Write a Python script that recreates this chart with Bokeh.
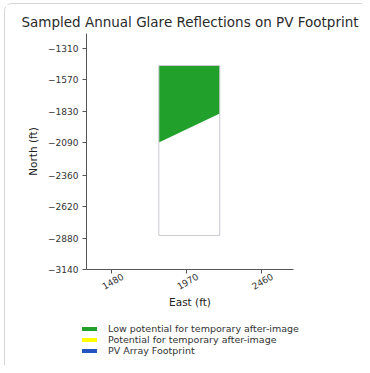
import math
from bokeh.plotting import figure
from bokeh.layouts import column, row
from bokeh.models import Range1d, FixedTicker, Legend, LegendItem, LinearAxis
from bokeh.embed import file_html
from bokeh.resources import INLINE

# ---- data ----
x_ticks = [1480, 1970, 2460]
y_ticks = [-1310, -1570, -1830, -2090, -2360, -2620, -2880, -3140]

footprint_x = [1787, 2186, 2186, 1787]
footprint_y = [-1451, -1451, -2858, -2858]

low_glare_x = [1787, 2186, 2186, 1787]
low_glare_y = [-1451, -1451, -1848, -2088]

legend_labels = ["Low potential for temporary after-image",
                 "Potential for temporary after-image",
                 "PV Array Footprint"]
legend_colors = ["#22a02c", "#ffff00", "#2453c2"]

FONT = "DejaVu Sans"
LABEL_SHIFT = 70  # horizontal nudge so rotated tick labels centre on their ticks

p = figure(output_backend="svg", toolbar_location=None,
           x_range=Range1d(1313, 2669), y_range=Range1d(-3140, -1186),
           frame_width=207, frame_height=236,
           min_border_left=81, min_border_right=69, min_border_top=29,
           min_border_bottom=4,
           title="Sampled Annual Glare Reflections on PV Footprint")

p.title.align = "center"
p.title.text_font = FONT
p.title.text_font_size = "13.5px"
p.title.text_font_style = "normal"
p.title.text_color = "#2a2a2a"
p.title.standoff = 8

p.outline_line_color = None
p.xgrid.visible = False
p.ygrid.visible = False
p.background_fill_color = "white"
p.border_fill_color = "white"

AX_COL = "#555555"
p.xaxis.ticker = FixedTicker(ticks=x_ticks)
p.yaxis.ticker = FixedTicker(ticks=y_ticks)
for ax in (p.xaxis, p.yaxis):
    ax.axis_line_color = AX_COL
    ax.major_tick_line_color = AX_COL
    ax.minor_tick_line_color = None
    ax.major_tick_out = 4
    ax.major_tick_in = 0
    ax.major_label_text_font = FONT
    ax.major_label_text_font_size = "9px"
    ax.major_label_text_color = "#333333"
    ax.axis_label_text_font = FONT
    ax.axis_label_text_font_size = "10.5px"
    ax.axis_label_text_font_style = "normal"
    ax.axis_label_text_color = "#222222"
    ax.major_label_standoff = 4
p.yaxis.axis_label = "North (ft)"
p.yaxis.axis_label_standoff = 6

# bottom axis: ticks only; labels drawn by a second label-only axis
p.xaxis.major_label_overrides = {t: "" for t in x_ticks}
p.xaxis.major_label_standoff = 0

shifted = [t + LABEL_SHIFT for t in x_ticks]
lab_axis = LinearAxis(ticker=FixedTicker(ticks=shifted),
                      major_label_overrides={s: str(t) for s, t in zip(shifted, x_ticks)})
lab_axis.axis_line_color = None
lab_axis.major_tick_line_color = None
lab_axis.minor_tick_line_color = None
lab_axis.major_tick_out = 0
lab_axis.major_tick_in = 0
lab_axis.major_label_orientation = math.pi / 6
lab_axis.major_label_text_font = FONT
lab_axis.major_label_text_font_size = "9px"
lab_axis.major_label_text_color = "#333333"
lab_axis.major_label_standoff = 2
lab_axis.axis_label = "East (ft)"
lab_axis.axis_label_text_font = FONT
lab_axis.axis_label_text_font_size = "10.5px"
lab_axis.axis_label_text_font_style = "normal"
lab_axis.axis_label_text_color = "#222222"
lab_axis.axis_label_standoff = 0
p.add_layout(lab_axis, "below")

# low glare region
p.patch(low_glare_x, low_glare_y, fill_color=legend_colors[0], line_color=None)
# footprint outline
p.patch(footprint_x, footprint_y, fill_color=None, line_color="#c9ccd2", line_width=1)

# ---- legend in its own strip below the plot ----
q = figure(width=357, height=54, output_backend="svg", toolbar_location=None,
           x_range=Range1d(0, 1), y_range=Range1d(0, 1),
           min_border_left=0, min_border_right=0, min_border_top=0, min_border_bottom=0)
q.axis.visible = False
q.grid.visible = False
q.outline_line_color = None
q.background_fill_color = "white"
q.border_fill_color = "white"

nan = float("nan")
items = []
for lab, col in zip(legend_labels, legend_colors):
    r = q.line([nan], [nan], line_color=col, line_width=4, line_cap="round")
    items.append(LegendItem(label=lab, renderers=[r]))

legend = Legend(items=items, location=(77, 9))
legend.label_text_font = FONT
legend.label_text_font_size = "9.5px"
legend.label_text_color = "#333333"
legend.glyph_width = 15
legend.glyph_height = 5
legend.label_height = 10
legend.label_standoff = 11
legend.spacing = 0
legend.padding = 0
legend.margin = 0
legend.border_line_alpha = 0
legend.background_fill_alpha = 0
q.add_layout(legend, "center")

layout = column(p, row(q), spacing=0,
                styles={"margin-left": "4px", "margin-top": "3px",
                        "border-left": "1px solid #d6d6d6",
                        "border-top": "1px solid #d6d6d6",
                        "border-top-left-radius": "8px",
                        "background-color": "white"})
open("out.html", "w").write(file_html(layout, INLINE))
